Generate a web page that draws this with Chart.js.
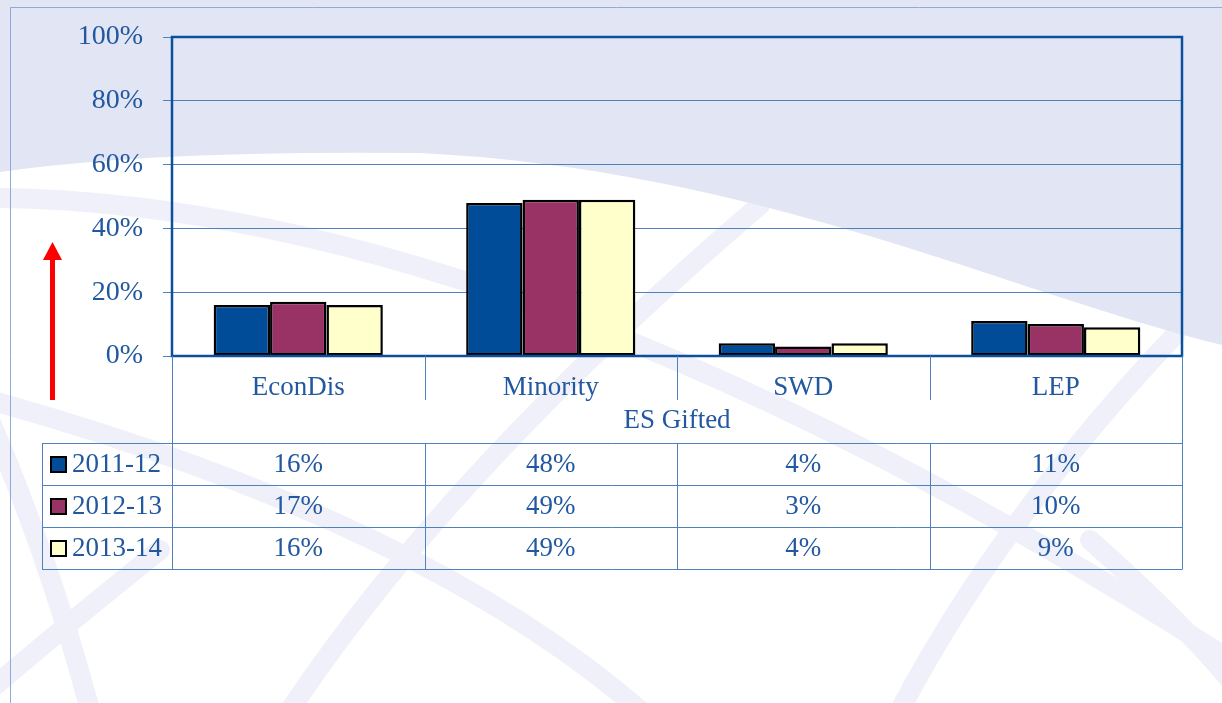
<!DOCTYPE html>
<html>
<head>
<meta charset="utf-8">
<script src="https://cdn.jsdelivr.net/npm/chart.js@4.4.1/dist/chart.umd.min.js"></script>
<style>
  html, body { margin: 0; padding: 0; background: #fff; }
  canvas { display: block; }
</style>
</head>
<body>
<canvas id="chart" width="1222" height="703"></canvas>
<script>
// Chart data
const categories = ['EconDis', 'Minority', 'SWD', 'LEP'];
const groupLabel = 'ES Gifted';
const years = ['2011-12', '2012-13', '2013-14'];
const values2011 = [16, 48, 4, 11];
const values2012 = [17, 49, 3, 10];
const values2013 = [16, 49, 4, 9];
const yTicks = [0, 20, 40, 60, 80, 100];

const seriesValues = [values2011, values2012, values2013];
const seriesColors = ['#004c99', '#993366', '#ffffcc'];

const textColor = '#22589f';
const gridColor = '#4f81bd';
const frameColor = '#0b4f9d';
const fontFamily = '"Liberation Serif", "DejaVu Serif", serif';

// Slide background + decorations
const slidePlugin = {
    id: 'slide',
    beforeDraw(chart) {
        const ctx = chart.ctx;
        ctx.save();
        ctx.fillStyle = '#ffffff';
        ctx.fillRect(0, 0, chart.width, chart.height);

        // faint swoosh bands
        ctx.strokeStyle = '#eff0f9';
        ctx.lineWidth = 20;
        ctx.lineCap = 'round';
        const bands = [
            [[0, 198], [520, 205], [1230, 660]],
            [[-10, 400], [420, 520], [640, 710]],
            [[760, 205], [450, 470], [290, 710]],
            [[1175, 335], [1000, 520], [900, 710]],
            [[160, 550], [60, 630], [-10, 690]],
            [[-10, 420], [50, 560], [90, 710]],
            [[1090, 540], [1180, 620], [1230, 680]]
        ];
        bands.forEach(b => {
            ctx.beginPath();
            ctx.moveTo(b[0][0], b[0][1]);
            ctx.quadraticCurveTo(b[1][0], b[1][1], b[2][0], b[2][1]);
            ctx.stroke();
        });

        // lavender top area with curved lower edge
        ctx.fillStyle = '#e2e5f4';
        ctx.beginPath();
        ctx.moveTo(0, 0);
        ctx.lineTo(1222, 0);
        ctx.lineTo(1222, 345);
        ctx.bezierCurveTo(1000, 290, 760, 170, 420, 153);
        ctx.quadraticCurveTo(150, 150, 0, 172);
        ctx.closePath();
        ctx.fill();

        // outer slide frame
        ctx.strokeStyle = '#8eaadb';
        ctx.lineWidth = 1;
        ctx.beginPath();
        ctx.moveTo(10.5, 703);
        ctx.lineTo(10.5, 7.5);
        ctx.lineTo(1222, 7.5);
        ctx.stroke();
        ctx.restore();
    },
    afterDatasetsDraw(chart) {
        const ctx = chart.ctx;
        const a = chart.chartArea;
        ctx.save();
        // plot frame
        ctx.strokeStyle = frameColor;
        ctx.lineWidth = 2.5;
        ctx.strokeRect(a.left, a.top, a.right - a.left, a.bottom - a.top);
        ctx.restore();
    },
    afterDraw(chart) {
        const ctx = chart.ctx;
        const a = chart.chartArea;
        const x = chart.scales.x;
        const half = (a.right - a.left) / categories.length / 2;
        const bounds = [a.left];
        categories.forEach((c, i) => bounds.push(x.getPixelForValue(i) + half));

        ctx.save();
        // category dividers below axis
        ctx.strokeStyle = gridColor;
        ctx.lineWidth = 1;
        ctx.beginPath();
        for (let i = 1; i < bounds.length - 1; i++) {
            const bx = Math.round(bounds[i]) + 0.5;
            ctx.moveTo(bx, a.bottom);
            ctx.lineTo(bx, 400);
        }
        const lx = Math.round(a.left) + 0.5;
        ctx.moveTo(lx, a.bottom);
        ctx.lineTo(lx, 443);
        const rx = Math.round(a.right) + 0.5;
        ctx.moveTo(rx, a.bottom);
        ctx.lineTo(rx, 443);
        ctx.stroke();

        // group label
        ctx.fillStyle = textColor;
        ctx.font = '27px ' + fontFamily;
        ctx.textAlign = 'center';
        ctx.textBaseline = 'middle';
        ctx.fillText(groupLabel, (a.left + a.right) / 2, 421);

        // data table
        const rowTops = [443, 485, 527, 569];
        const tableLeft = 42;
        ctx.beginPath();
        rowTops.forEach(y => {
            ctx.moveTo(tableLeft, y + 0.5);
            ctx.lineTo(a.right + 0.5, y + 0.5);
        });
        ctx.moveTo(tableLeft + 0.5, rowTops[0]);
        ctx.lineTo(tableLeft + 0.5, rowTops[3]);
        bounds.forEach(b => {
            const bx = Math.round(b) + 0.5;
            ctx.moveTo(bx, rowTops[0]);
            ctx.lineTo(bx, rowTops[3]);
        });
        ctx.stroke();

        years.forEach((yr, r) => {
            const cy = (rowTops[r] + rowTops[r + 1]) / 2 + 1;
            // legend key
            ctx.fillStyle = seriesColors[r];
            ctx.fillRect(51, cy - 8, 15, 15);
            ctx.strokeStyle = '#000';
            ctx.lineWidth = 2;
            ctx.strokeRect(51, cy - 8, 15, 15);
            ctx.fillStyle = textColor;
            ctx.textAlign = 'left';
            ctx.fillText(yr, 72, cy);
            ctx.textAlign = 'center';
            seriesValues[r].forEach((v, i) => {
                ctx.fillText(v + '%', x.getPixelForValue(i), cy);
            });
        });

        // red arrow
        ctx.fillStyle = '#ff0000';
        ctx.fillRect(50, 258, 5, 142);
        ctx.beginPath();
        ctx.moveTo(52.5, 242);
        ctx.lineTo(62, 260);
        ctx.lineTo(43, 260);
        ctx.closePath();
        ctx.fill();
        ctx.restore();
    }
};

const chart = new Chart(document.getElementById('chart'), {
    type: 'bar',
    data: {
        labels: categories,
        datasets: years.map((yr, i) => ({
            label: yr,
            data: seriesValues[i],
            backgroundColor: seriesColors[i],
            borderColor: '#000000',
            borderWidth: 2.5,
            borderSkipped: false
        }))
    },
    options: {
        responsive: false,
        devicePixelRatio: 1,
        animation: false,
        layout: {
            padding: { top: 37, left: 10, right: 40, bottom: 0 }
        },
        categoryPercentage: 0.67,
        barPercentage: 1.0,
        plugins: {
            legend: { display: false },
            tooltip: { enabled: false }
        },
        scales: {
            x: {
                grid: { display: false },
                border: { display: false },
                ticks: {
                    color: textColor,
                    font: { family: fontFamily, size: 27 },
                    padding: 8
                },
                afterFit(scale) { scale.height = 347; }
            },
            y: {
                min: 0,
                max: 100,
                afterBuildTicks(scale) { scale.ticks = yTicks.map(v => ({ value: v })); },
                grid: {
                    color: gridColor,
                    lineWidth: 1,
                    tickLength: 9,
                    drawTicks: true
                },
                border: { display: false },
                ticks: {
                    color: textColor,
                    font: { family: fontFamily, size: 28 },
                    padding: 20,
                    callback: v => v + '%'
                },
                afterFit(scale) { scale.width = 162; }
            }
        }
    },
    plugins: [slidePlugin]
});
</script>
</body>
</html>
